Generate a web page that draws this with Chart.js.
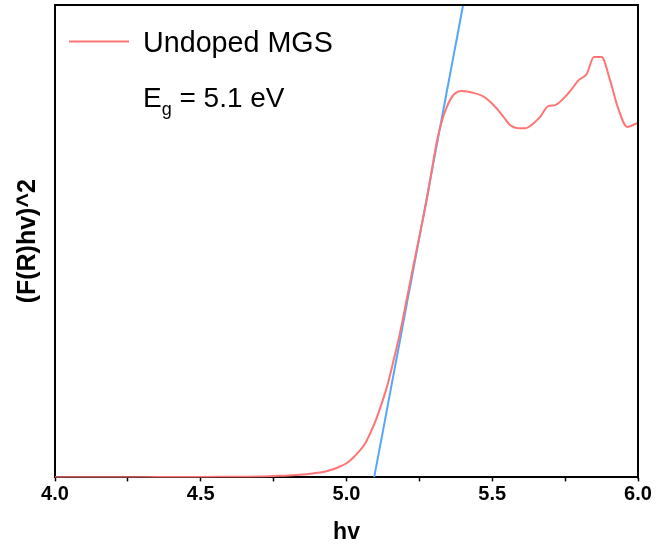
<!DOCTYPE html>
<html>
<head>
<meta charset="utf-8">
<script src="https://cdn.jsdelivr.net/npm/chart.js@4/dist/chart.umd.min.js"></script>
<style>
  html, body { margin: 0; padding: 0; background: #fff; }
  #wrap { width: 657px; height: 552px; }
</style>
</head>
<body>
<div id="wrap"><canvas id="c" width="657" height="552"></canvas></div>
<script>
// photon energy (eV) and (F(R)hv)^2 (arbitrary units, 0-100)
const hv = [4.00, 4.10, 4.20, 4.30, 4.40, 4.50, 4.60, 4.70, 4.75, 4.80, 4.85, 4.885, 4.92, 4.943, 4.97,
  5.00, 5.02, 5.046, 5.065, 5.081, 5.10, 5.115, 5.138, 5.16, 5.184, 5.206, 5.23, 5.255, 5.275, 5.292,
  5.309, 5.326, 5.344, 5.366, 5.395, 5.435, 5.464, 5.49, 5.515, 5.54, 5.561, 5.595, 5.612, 5.641, 5.664,
  5.692, 5.715, 5.744, 5.77, 5.795, 5.824, 5.849, 5.875, 5.904, 5.932, 5.963, 6.00];
const undoped = [0.05, 0.05, 0.05, 0.05, 0.08, 0.1, 0.15, 0.2, 0.3, 0.4, 0.6, 0.85, 1.15, 1.5, 2.1,
  3.0, 4.0, 5.7, 7.3, 9.3, 12.0, 14.6, 19.0, 24.4, 30.7, 37.5, 45.0, 52.5, 58.7, 64.8,
  70.8, 75.2, 78.4, 80.9, 81.8, 81.4, 80.8, 79.7, 78.1, 76.2, 74.6, 73.9, 73.9, 74.9, 76.3,
  78.6, 78.8, 80.2, 82.0, 84.0, 85.4, 89.0, 89.0, 84.1, 78.1, 74.2, 75.1];

// tangent line used for the band gap
const fitX = [5.095, 5.40];
const fitY = [0, 100];

const xTickLabels = ['4.0', '4.5', '5.0', '5.5', '6.0'];
const seriesName = 'Undoped MGS';

const red = '#ff7474';
const blue = '#55a6fb';

// top/right frame plus the legend and Eg note inside the plot
const annotations = {
  id: 'annotations',
  afterDraw(chart) {
    const ctx = chart.ctx;
    const a = chart.chartArea;
    ctx.save();
    ctx.strokeStyle = '#000';
    ctx.lineWidth = 2;
    ctx.lineCap = 'square';
    ctx.beginPath();
    ctx.moveTo(a.left, a.top);
    ctx.lineTo(a.right, a.top);
    ctx.lineTo(a.right, a.bottom);
    ctx.stroke();

    ctx.strokeStyle = red;
    ctx.lineCap = 'butt';
    ctx.beginPath();
    ctx.moveTo(a.left + 14, a.top + 36.5);
    ctx.lineTo(a.left + 74, a.top + 36.5);
    ctx.stroke();

    ctx.fillStyle = '#000';
    ctx.textBaseline = 'alphabetic';
    ctx.textAlign = 'left';
    ctx.font = '28.7px "Liberation Sans", Arial, sans-serif';
    ctx.fillText(seriesName, a.left + 88, a.top + 47);

    ctx.font = '28px "Liberation Sans", Arial, sans-serif';
    let x = a.left + 88;
    ctx.fillText('E', x, a.top + 102);
    x += ctx.measureText('E').width;
    ctx.font = '18px "Liberation Sans", Arial, sans-serif';
    ctx.fillText('g', x, a.top + 110);
    x += ctx.measureText('g').width;
    ctx.font = '28px "Liberation Sans", Arial, sans-serif';
    ctx.fillText(' = 5.1 eV', x, a.top + 102);
    ctx.restore();
  }
};

new Chart(document.getElementById('c'), {
  type: 'line',
  data: {
    datasets: [
      {
        label: seriesName,
        data: hv.map((v, i) => ({ x: v, y: undoped[i] })),
        borderColor: red,
        borderWidth: 2,
        pointRadius: 0,
        cubicInterpolationMode: 'monotone'
      },
      {
        label: 'fit',
        data: fitX.map((v, i) => ({ x: v, y: fitY[i] })),
        borderColor: blue,
        borderWidth: 2,
        pointRadius: 0
      }
    ]
  },
  options: {
    responsive: false,
    animation: false,
    layout: { padding: { left: 0, right: 19, top: 5, bottom: 6 } },
    plugins: {
      legend: { display: false },
      tooltip: { enabled: false }
    },
    scales: {
      x: {
        type: 'linear',
        min: 4,
        max: 6,
        ticks: {
          stepSize: 0.25,
          padding: 1,
          color: '#000',
          font: { family: '"Liberation Sans", Arial, sans-serif', size: 20, weight: 'bold' },
          callback: (v) => {
            const k = Math.round((v - 4) / 0.5 * 1000) / 1000;
            return Number.isInteger(k) ? xTickLabels[k] : '';
          }
        },
        grid: {
          drawOnChartArea: false,
          drawTicks: true,
          tickLength: 4,
          tickWidth: 1.5,
          tickColor: '#000'
        },
        border: { color: '#000', width: 2 },
        title: {
          display: true,
          text: 'hv',
          color: '#000',
          font: { family: '"Liberation Sans", Arial, sans-serif', size: 23, weight: 'bold' },
          padding: { top: 11, bottom: 0 }
        }
      },
      y: {
        min: 0,
        max: 100,
        ticks: { display: false },
        grid: { drawOnChartArea: false, drawTicks: false },
        border: { color: '#000', width: 2 },
        title: {
          display: true,
          text: '(F(R)hv)^2',
          color: '#000',
          font: { family: '"Liberation Sans", Arial, sans-serif', size: 25, weight: 'bold' },
          padding: { top: 13, bottom: 12 }
        }
      }
    }
  },
  plugins: [annotations]
});
</script>
</body>
</html>
